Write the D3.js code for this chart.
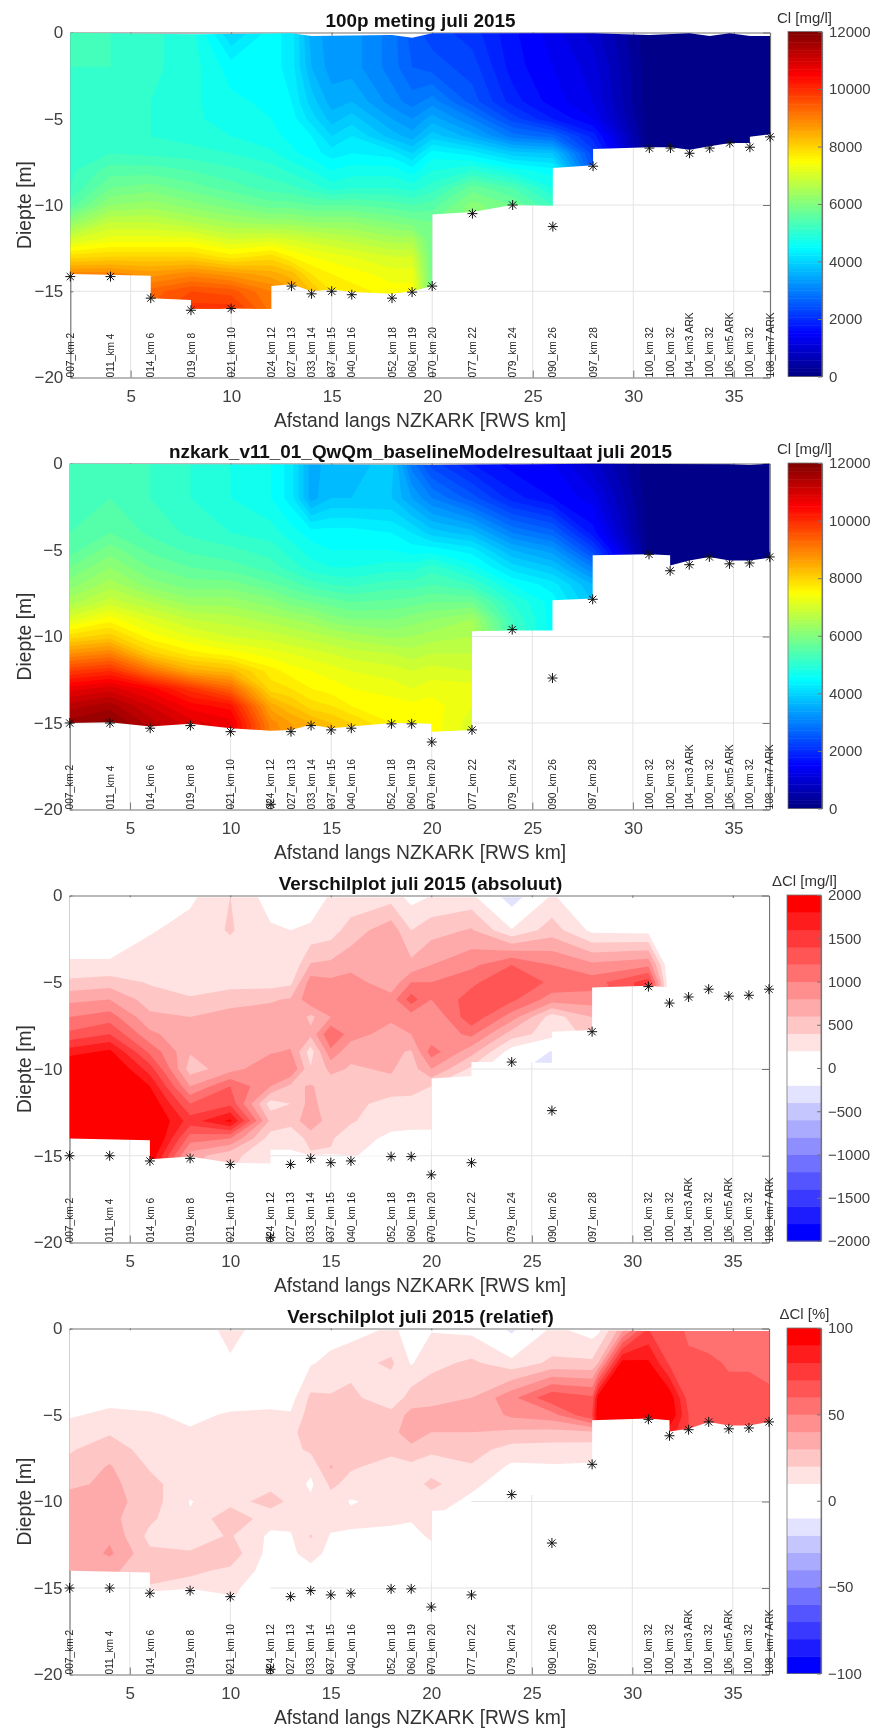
<!DOCTYPE html>
<html>
<head>
<meta charset="utf-8">
<script src="https://cdnjs.cloudflare.com/ajax/libs/d3/7.8.5/d3.min.js"></script>
<style>
  html, body { margin: 0; padding: 0; background: #fff; }
  svg { display: block; font-family: "Liberation Sans", Arial, sans-serif; filter: blur(0.35px); }
</style>
</head>
<body>
<div class="chart"></div>
<script>
// stations along the canal
const stationKm = [2, 4, 6, 8, 10, 12, 13, 14, 15, 16, 18, 19, 20, 22, 24, 26, 28, 30.8, 31.85, 32.8, 33.8, 34.8, 35.8, 36.8];
const stationNames = ["007_km 2", "011_km 4", "014_km 6", "019_km 8", "021_km 10", "024_km 12", "027_km 13", "033_km 14",
  "037_km 15", "040_km 16", "052_km 18", "060_km 19", "070_km 20", "077_km 22", "079_km 24", "090_km 26", "097_km 28",
  "100_km 32", "100_km 32", "104_km3 ARK", "100_km 32", "106_km5 ARK", "100_km 32", "108_km7 ARK"];
const gridDepth = [0, -2, -4, -5, -6, -7, -8, -9, -10, -11, -12, -13, -14, -15, -16];
// extra columns for the steep front in the relative plot
const relKm = [2, 4, 6, 8, 10, 12, 13, 14, 15, 16, 18, 19, 20, 22, 24, 26, 28, 28.3, 29.5, 30.8, 31.85, 32.8, 33.8, 34.8, 35.8, 36.8];

// bottom depth markers
const bedMeting = [-14.15, -14.15, -15.4, -16.1, -16, null, -14.7, -15.15, -15, -15.2, -15.4, -15.05, -14.7, -10.5, -10, -11.25, -7.75, -6.7, -6.7, -7, -6.7, -6.4, -6.65, -6.05];
const bedModel = [-15, -15, -15.3, -15.15, -15.5, -19.7, -15.5, -15.15, -15.4, -15.3, -15.05, -15.05, -16.1, -15.4, -9.6, -12.4, -7.85, -5.25, -6.2, -5.85, -5.4, -5.8, -5.75, -5.4];

// values per km column, from surface to bottom
const meting = [
  [5200,5200,5150,5150,5150,5150,5150,5200,5500,6200,7000,7900,8900,9000,9000],
  [5200,5200,5150,5100,5100,5200,5500,5800,6200,6800,7300,8000,8900,9000,9000],
  [5050,5050,5000,5000,5000,5150,5500,5900,6300,6800,7300,8000,8700,9300,9400],
  [4900,4900,4850,4850,4900,5100,5400,5700,6100,6600,7300,8000,8900,9600,9900],
  [4000,4500,4650,4700,4800,5000,5250,5500,5900,6400,7000,7700,8700,9500,9900],
  [4500,4500,4550,4600,4650,4850,5100,5300,5700,6300,7100,7900,8500,9000,9100],
  [4300,4300,4400,4500,4550,4650,4950,5250,5700,6300,7000,7600,8300,8700,8800],
  [3500,3600,3900,4100,4400,4500,4800,5100,5600,6200,6900,7400,7800,8200,8200],
  [3300,3300,3500,3700,4000,4300,4600,4900,5600,6200,6800,7300,7600,7800,7800],
  [3300,3300,3600,3900,4200,4400,4700,5000,5600,6200,6700,7200,7500,7700,7700],
  [2900,2900,3100,3400,3700,4300,4700,5000,5500,6000,6500,7000,7300,7500,7500],
  [2500,2600,2900,3200,3500,4000,4500,4900,5400,5900,6500,7000,7300,7500,7500],
  [2300,2500,3100,3500,3900,4500,4800,5100,5500,5800,5800,5800,5800,5800,5800],
  [2100,2300,2500,3000,3500,4300,5000,5700,6100,6100,6100,6100,6100,6100,6100],
  [1650,1700,1900,2300,2900,3900,4700,5400,5800,5800,5800,5800,5800,5800,5800],
  [1300,1400,1500,1800,2700,3800,4500,4800,5200,5200,5200,5200,5200,5200,5200],
  [900,1100,1200,1400,1900,2300,2500,2500,2500,2500,2500,2500,2500,2500,2500],
  [50,50,50,50,50,50,50,50,50,50,50,50,50,50,50],
  [50,50,50,50,50,50,50,50,50,50,50,50,50,50,50],
  [50,50,50,50,50,50,50,50,50,50,50,50,50,50,50],
  [50,50,50,50,50,50,50,50,50,50,50,50,50,50,50],
  [50,50,50,50,50,50,50,50,50,50,50,50,50,50,50],
  [50,50,50,50,50,50,50,50,50,50,50,50,50,50,50],
  [50,50,50,50,50,50,50,50,50,50,50,50,50,50,50]
];
const model = [
  [5300,5300,5400,5500,5800,6100,6500,7100,7900,8800,9800,10700,11300,11700,11700],
  [5300,5400,5600,5900,6200,6500,6900,7500,8100,9000,10000,10900,11500,11900,11900],
  [5200,5200,5350,5550,5800,6100,6600,7100,7500,8100,9200,10500,11000,11300,11300],
  [5000,5000,5150,5350,5600,5900,6300,6800,7200,7700,8500,9900,10500,10900,10900],
  [4800,4800,5000,5250,5500,5900,6300,6700,7000,7500,8300,9300,10300,10700,10700],
  [4600,4600,4900,5100,5300,5650,6100,6500,6900,7300,7700,7900,8500,8900,9000],
  [4300,4300,4700,4900,5100,5500,5900,6400,6800,7200,7500,7800,8200,8600,8700],
  [3500,3500,4500,4700,4900,5300,5800,6300,6700,7100,7400,7600,7900,8400,8500],
  [3700,3800,4500,4600,4800,5200,5700,6100,6600,7000,7300,7500,7800,8200,8300],
  [3700,3800,4500,4600,4800,5150,5600,6000,6500,6900,7200,7400,7600,8000,8100],
  [3900,3800,4400,4600,4900,5300,5650,6000,6350,6800,7100,7300,7500,7600,7600],
  [2900,3400,4200,4500,4900,5300,5700,6100,6400,6700,7000,7200,7450,7500,7500],
  [2300,3000,3900,4500,5100,5400,5800,6200,6500,6800,7100,7300,7500,7500,7500],
  [1800,2500,3700,4300,4700,5200,5800,6400,6600,6800,7000,7300,7200,7100,7100],
  [1500,1900,3000,3600,4100,4600,5000,5200,5300,5300,5300,5300,5300,5300,5300],
  [1400,1600,2700,3300,3800,4300,4500,4500,4500,4500,4500,4500,4500,4500,4500],
  [900,1300,1700,2300,3000,3600,3800,3800,3800,3800,3800,3800,3800,3800,3800],
  [50,50,80,100,100,100,100,100,100,100,100,100,100,100,100],
  [50,50,50,50,50,50,50,50,50,50,50,50,50,50,50],
  [50,50,50,50,50,50,50,50,50,50,50,50,50,50,50],
  [50,50,50,50,50,50,50,50,50,50,50,50,50,50,50],
  [50,50,50,50,50,50,50,50,50,50,50,50,50,50,50],
  [50,50,50,50,50,50,50,50,50,50,50,50,50,50,50],
  [50,50,50,50,50,50,50,50,50,50,50,50,50,50,50]
];
const verschilAbs = [
  [0,100,220,450,750,1000,1250,1700,2100,2200,2200,2200,2200,2200,2200],
  [0,100,220,500,800,1100,1400,1850,2100,2300,2300,2300,2300,2300,2300],
  [0,180,320,380,500,650,850,1150,1500,1800,2000,2100,2200,2000,1900],
  [150,280,300,320,420,600,650,620,500,800,1200,1500,1100,700,600],
  [400,420,280,320,520,680,700,720,720,1200,1350,1850,1000,450,400],
  [100,230,280,300,580,680,650,780,950,800,300,550,300,280,250],
  [50,200,220,350,620,800,700,820,1000,550,400,450,300,350,300],
  [60,240,620,900,950,550,650,300,420,620,680,780,450,380,350],
  [220,300,650,850,950,800,1200,950,650,500,450,460,420,380,350],
  [230,500,720,900,1000,820,900,650,580,520,480,420,300,220,200],
  [300,720,650,650,900,850,700,640,620,550,300,280,150,100,100],
  [120,400,650,1000,1300,900,800,580,500,520,300,250,150,100,100],
  [200,520,800,1000,1000,800,850,1100,800,400,300,250,150,100,100],
  [250,620,950,1150,1300,1350,1050,680,350,250,200,150,100,100,100],
  [-400,220,1200,1400,1250,900,500,100,-150,0,0,0,0,0,0],
  [220,500,1000,1150,900,300,300,-220,-300,-250,0,0,0,0,0],
  [0,150,850,1100,900,600,450,300,100,0,0,0,0,0,0],
  [0,120,950,1500,1600,1600,1600,1600,1600,1600,1600,1600,1600,1600,1600],
  [0,0,0,0,0,0,0,0,0,0,0,0,0,0,0],
  [0,0,0,0,0,0,0,0,0,0,0,0,0,0,0],
  [0,0,0,0,0,0,0,0,0,0,0,0,0,0,0],
  [0,0,0,0,0,0,0,0,0,0,0,0,0,0,0],
  [0,0,0,0,0,0,0,0,0,0,0,0,0,0,0],
  [0,0,0,0,0,0,0,0,0,0,0,0,0,0,0]
];
const verschilRel = [
  [0,0,5,9,14,19,23,27,37,30,30,30,32,32,32],
  [0,3,7,12,19,25,31,33,34,33,38,42,32,30,30],
  [0,2,6,11,13,16,19,23,25,22,17,22,24,19,17],
  [0,2,5,8,11,13,15,14,9.5,11,15,21,22,16,13],
  [15,8,6,11,13,14,14,15,16,28,21,26,18,12,10],
  [2,3,6,12,13,14,15,17,24,14,8,6,5,4,4],
  [1,2,6,11,17,17,13,16,18,13,9,8,6,6,6],
  [2,9,22,25,26,22,13,8,12,12,21,14,7,6,6],
  [5,13,21,25,26,24,31,22,16,14,9,7,6,5,5],
  [6,16,23,26,25,22,21,17,9,13,8,6,5,5,5],
  [11,22,12,24,24,22,17,16,14,12,7,5,4,4,4],
  [8,9,25,33,40,25,18,15,14,11,6,5,4,4,4],
  [9,17,27,33,30,22,15,23,14,10,12,5,4,4,4],
  [7,22,30,32,30,24,19,12,8,6,5,4,4,4,4],
  [-14,14,47,42,28,16,8,5,4,4,4,4,4,4,4],
  [12,22,68,46,27,15,9,5,4,4,4,4,4,4,4],
  [5,22,62,70,28,14,11,8,5,4,4,4,4,4,4],
  [6,30,95,100,100,100,100,100,100,100,100,100,100,100,100],
  [35,95,105,105,105,105,105,105,105,105,105,105,105,105,105],
  [70,92,105,105,105,105,105,105,105,105,105,105,105,105,105],
  [65,68,97,100,85,85,85,85,85,85,85,85,85,85,85],
  [58,62,65,70,70,70,70,70,70,70,70,70,70,70,70],
  [55,62,64,65,65,65,65,65,65,65,65,65,65,65,65],
  [55,59,63,65,65,65,65,65,65,65,65,65,65,65,65],
  [55,59,63,65,65,65,65,65,65,65,65,65,65,65,65],
  [55,57,62,65,65,65,65,65,65,65,65,65,65,65,65]
];

// outline of the filled area, km and depth
const outlineKmMeting = [2, 8, 13, 14, 18, 19, 20, 28, 30.8, 32.8, 33.8, 34.8, 35.8, 36.8, 36.8, 35.8, 35.8, 34.8, 33.8, 32.8, 31.85, 30.8, 28, 28, 26, 26, 24, 22, 20, 20, 19, 18, 16, 15, 14, 13, 12, 12, 10, 8, 8, 6, 6, 2];
const outlineDepthMeting = [-0.02, -0.1, -0.05, -0.2, -0.15, -0.3, -0.05, -0.05, -0.15, -0.05, -0.2, -0.05, -0.2, -0.2, -5.9, -6.05, -6.4, -6.4, -6.6, -6.8, -6.65, -6.65, -6.75, -7.7, -7.85, -10.05, -10, -10.4, -10.55, -14.7, -15, -15.15, -15.05, -14.9, -15, -14.6, -14.7, -16.05, -16, -16.1, -15.5, -15.4, -14.1, -14];
const outlineKmModel = [2, 20, 28, 34.8, 35.8, 36.8, 36.8, 35.8, 34.8, 33.8, 32.8, 31.85, 31.85, 30.8, 28, 28, 26, 26, 24, 22, 22, 20, 20, 19, 18, 16, 15, 14, 13, 12, 10, 8, 6, 4, 2];
const outlineDepthModel = [-0.02, -0.08, -0.02, -0.05, -0.08, -0.02, -5.45, -5.6, -5.6, -5.4, -5.6, -5.9, -5.3, -5.25, -5.3, -7.8, -7.9, -9.65, -9.65, -9.7, -15.4, -15.5, -15.05, -15, -15, -15.2, -15.3, -15.1, -15.4, -15.45, -15.3, -15.05, -15.2, -14.95, -15];
const outlineKmDiff = [2, 28, 30.8, 36.8, 36.8, 35.8, 34.8, 33.8, 32.8, 31.85, 31.85, 30.8, 28, 28, 26, 26, 24, 22, 22, 20, 20, 19, 18, 16, 15, 14, 13, 12, 12, 10, 8, 6, 6, 2];
const outlineDepthDiff = [-0.1, -0.1, -0.15, -0.15, -5.4, -5.6, -5.6, -5.4, -5.8, -5.95, -5.3, -5.2, -5.3, -7.75, -7.85, -9.65, -9.6, -9.6, -10.4, -10.55, -14.7, -15, -15, -15, -14.9, -15, -14.65, -14.65, -15.45, -15.4, -15.05, -15.2, -14.1, -14];

const xTicks = [5, 10, 15, 20, 25, 30, 35];
const yTicks = [0, -5, -10, -15, -20];
const jetTicks = [0, 2000, 4000, 6000, 8000, 10000, 12000];
const absTicks = [-2000, -1500, -1000, -500, 0, 500, 1000, 1500, 2000];
const relTicks = [-100, -50, 0, 50, 100];

const titles = ["100p meting juli 2015", "nzkark_v11_01_QwQm_baselineModelresultaat juli 2015", "Verschilplot juli 2015 (absoluut)", "Verschilplot juli 2015 (relatief)"];
const unitLabels = ["Cl [mg/l]", "Cl [mg/l]", "\u0394Cl [mg/l]", "\u0394Cl [%]"];

const totalWidth = 874;
const totalHeight = 1729;
const axisTops = [32.5, 463.5, 895.5, 1328.5];
const axisBottoms = [377.5, 809.5, 1242.5, 1674.5];
const axisLefts = [70.3, 69.7, 69.5, 69.5];
const axisRights = [770, 769.7, 769, 769];
const barLefts = [788, 788, 787, 787];
const barTops = [31.5, 463, 895, 1328];
const barBottoms = [376.5, 808.5, 1241, 1673.5];

// matlab jet colormap
function jet(t) {
  const c = (v) => Math.round(255 * Math.max(0, Math.min(1, v)));
  return d3.rgb(c(1.5 - Math.abs(4 * t - 3)), c(1.5 - Math.abs(4 * t - 2)), c(1.5 - Math.abs(4 * t - 1))).formatHex();
}
// 20 steps blue - white - red, the two middle ones white
function divergingColor(i) {
  const k = i < 10 ? 9 - i : i - 10;
  const v = Math.round(255 * (1 - k / 9));
  return i < 10 ? d3.rgb(v, v, 255).formatHex() : d3.rgb(255, v, v).formatHex();
}

const svg = d3.select(".chart").append("svg").attr("width", totalWidth).attr("height", totalHeight);

const star = {
  draw(context, size) {
    const r = Math.sqrt(size) / 2;
    const d = r * 0.72;
    context.moveTo(-r, 0); context.lineTo(r, 0);
    context.moveTo(0, -r); context.lineTo(0, r);
    context.moveTo(-d, -d); context.lineTo(d, d);
    context.moveTo(-d, d); context.lineTo(d, -d);
  },
};

function drawPanel(p, index) {
  const x = d3.scaleLinear().domain([2, 36.8]).range([axisLefts[index], axisRights[index]]);
  const y = d3.scaleLinear().domain([-20, 0]).range([axisBottoms[index], axisTops[index]]);
  const g = svg.append("g");
  const maskId = "area" + index;

  // grid first, the contours cover it
  g.append("g").selectAll("line").data(xTicks).enter().append("line")
    .attr("x1", (d) => x(d)).attr("x2", (d) => x(d)).attr("y1", y(0)).attr("y2", y(-20))
    .attr("stroke", "#e3e3e3").attr("stroke-width", 1);
  g.append("g").selectAll("line").data(yTicks.slice(1, 4)).enter().append("line")
    .attr("x1", x(2)).attr("x2", x(36.8)).attr("y1", (d) => y(d)).attr("y2", (d) => y(d))
    .attr("stroke", "#e3e3e3").attr("stroke-width", 1);

  // axes
  const styleAxis = (a, size) => {
    a.selectAll("path").attr("stroke", "#757575").attr("stroke-width", 1.2);
    a.selectAll("line").attr("stroke", "#757575").attr("stroke-width", 1);
    a.selectAll("text").attr("fill", "#404040").attr("font-size", size).attr("font-family", "Liberation Sans");
  };
  g.append("g").attr("transform", `translate(0,${y(-20)})`)
    .call(d3.axisBottom(x).tickValues(xTicks).tickFormat(d3.format("d")).tickSizeInner(-7).tickSizeOuter(0).tickPadding(12))
    .call(styleAxis, 17);
  g.append("g").attr("transform", `translate(0,${y(0)})`)
    .call(d3.axisTop(x).tickValues(xTicks).tickFormat("").tickSizeInner(-3).tickSizeOuter(0))
    .call(styleAxis, 17);
  g.append("g").attr("transform", `translate(${x(2)},0)`)
    .call(d3.axisLeft(y).tickValues(yTicks).tickFormat(d3.format("d")).tickSizeInner(-3).tickSizeOuter(0).tickPadding(7))
    .call(styleAxis, 17);
  g.append("g").attr("transform", `translate(${x(36.8)},0)`)
    .call(d3.axisRight(y).tickValues(yTicks).tickFormat("").tickSizeInner(-7).tickSizeOuter(0))
    .call(styleAxis, 17);

  // mask to the measured/modelled area
  const outline = d3.line().x((d) => x(d[0])).y((d) => y(d[1]));
  svg.append("mask").attr("id", maskId).attr("maskUnits", "userSpaceOnUse")
    .attr("x", 0).attr("y", 0).attr("width", totalWidth).attr("height", totalHeight)
    .append("path")
    .attr("d", outline(d3.zip(p.outlineKm, p.outlineDepth)) + "Z")
    .attr("fill", "#fff");

  // contourf: nested filled contours, lowest first
  const kmOfIndex = d3.scaleLinear().domain(p.km.map((d, i) => i + 0.5)).range(p.km).clamp(true);
  const depthOfIndex = d3.scaleLinear().domain(gridDepth.map((d, i) => i + 0.5)).range(gridDepth).clamp(true);
  const flat = [];
  gridDepth.forEach((d, j) => p.km.forEach((k, i) => flat.push(p.values[i][j])));
  const contours = d3.contours().size([p.km.length, gridDepth.length]).thresholds(p.levels)(flat);
  const ringPath = d3.line().x((d) => x(kmOfIndex(d[0]))).y((d) => y(depthOfIndex(d[1])));

  g.append("g").attr("mask", `url(#${maskId})`)
    .selectAll("path").data(contours).enter().append("path")
    .attr("d", (c) => c.coordinates.map((poly) => poly.map((ring) => ringPath(ring) + "Z").join("")).join(""))
    .attr("fill", (c, i) => p.colors[i])
    .attr("stroke", "none");

  // stars on the bottom
  g.append("g").selectAll("path").data(d3.zip(stationKm, p.bed).filter((d) => d[1] !== null)).enter().append("path")
    .attr("transform", (d) => `translate(${x(d[0])},${y(d[1])})`)
    .attr("d", d3.symbol().type(star).size(100))
    .attr("fill", "none").attr("stroke", "#111").attr("stroke-width", 1);

  // station names
  g.append("g").selectAll("text").data(d3.zip(stationKm, stationNames)).enter().append("text")
    .attr("transform", (d) => `translate(${x(d[0]) + 3.6},${y(-20)}) rotate(-90)`)
    .attr("font-size", 10.2).attr("fill", "#222").text((d) => d[1]);

  // labels
  g.append("text").attr("x", 420.5).attr("y", axisTops[index] - 5.7).attr("text-anchor", "middle")
    .attr("font-size", 18.9).attr("font-weight", "bold").attr("fill", "#111").text(titles[index]);
  g.append("text").attr("x", 420).attr("y", y(-20) + 49.5).attr("text-anchor", "middle")
    .attr("font-size", 19.3).attr("fill", "#333").text("Afstand langs NZKARK [RWS km]");
  g.append("text").attr("transform", `translate(31,${(y(0) + y(-20)) / 2}) rotate(-90)`).attr("text-anchor", "middle")
    .attr("font-size", 19.3).attr("fill", "#333").text("Diepte [m]");

  // colorbar
  const barX = barLefts[index];
  const barY = d3.scaleLinear().domain(p.barDomain).range([barBottoms[index], barTops[index]]);
  const barG = svg.append("g");
  barG.selectAll("rect").data(p.barBands).enter().append("rect")
    .attr("x", barX).attr("width", 34)
    .attr("y", (d) => barY(d[1]))
    .attr("height", (d) => barY(d[0]) - barY(d[1]) + 0.5)
    .attr("fill", (d) => d[2]);
  barG.append("g").attr("transform", `translate(${barX + 34},0)`)
    .call(d3.axisRight(barY).tickValues(p.barTicks).tickFormat(d3.format("d")).tickSizeInner(-4).tickSizeOuter(0).tickPadding(7))
    .call(styleAxis, 15);
  barG.append("rect").attr("x", barX).attr("y", barY(p.barDomain[1])).attr("width", 34)
    .attr("height", barY(p.barDomain[0]) - barY(p.barDomain[1]))
    .attr("fill", "none").attr("stroke", "#757575").attr("stroke-width", 0.8);
  barG.append("text").attr("x", 804.5).attr("y", barTops[index] - 9).attr("text-anchor", "middle")
    .attr("font-size", 15).attr("fill", "#333").text(unitLabels[index]);
}

const jetLevels = d3.range(0, 12000, 200);
const jetColors = jetLevels.map((d) => jet((d + 100) / 12000));
const jetBands = d3.range(0, 128).map((i) => [i * 12000 / 128, (i + 1) * 12000 / 128, jet((i + 0.5) / 128)]);
const stepColors = d3.range(0, 20).map(divergingColor);
const absLevels = d3.range(0, 20).map((i) => -2000 + i * 200);
const relLevels = d3.range(0, 20).map((i) => -100 + i * 10);
absLevels[0] = -1e6;
relLevels[0] = -1e6;
const absBands = d3.range(0, 20).map((i) => [-2000 + i * 200, -1800 + i * 200, stepColors[i]]);
const relBands = d3.range(0, 20).map((i) => [-100 + i * 10, -90 + i * 10, stepColors[i]]);

drawPanel({ km: stationKm, values: meting, levels: jetLevels, colors: jetColors, bed: bedMeting,
  outlineKm: outlineKmMeting, outlineDepth: outlineDepthMeting, barDomain: [0, 12000], barBands: jetBands, barTicks: jetTicks }, 0);
drawPanel({ km: stationKm, values: model, levels: jetLevels, colors: jetColors, bed: bedModel,
  outlineKm: outlineKmModel, outlineDepth: outlineDepthModel, barDomain: [0, 12000], barBands: jetBands, barTicks: jetTicks }, 1);
drawPanel({ km: stationKm, values: verschilAbs, levels: absLevels, colors: stepColors, bed: bedModel,
  outlineKm: outlineKmDiff, outlineDepth: outlineDepthDiff, barDomain: [-2000, 2000], barBands: absBands, barTicks: absTicks }, 2);
drawPanel({ km: relKm, values: verschilRel, levels: relLevels, colors: stepColors, bed: bedModel,
  outlineKm: outlineKmDiff, outlineDepth: outlineDepthDiff, barDomain: [-100, 100], barBands: relBands, barTicks: relTicks }, 3);
</script>
</body>
</html>
